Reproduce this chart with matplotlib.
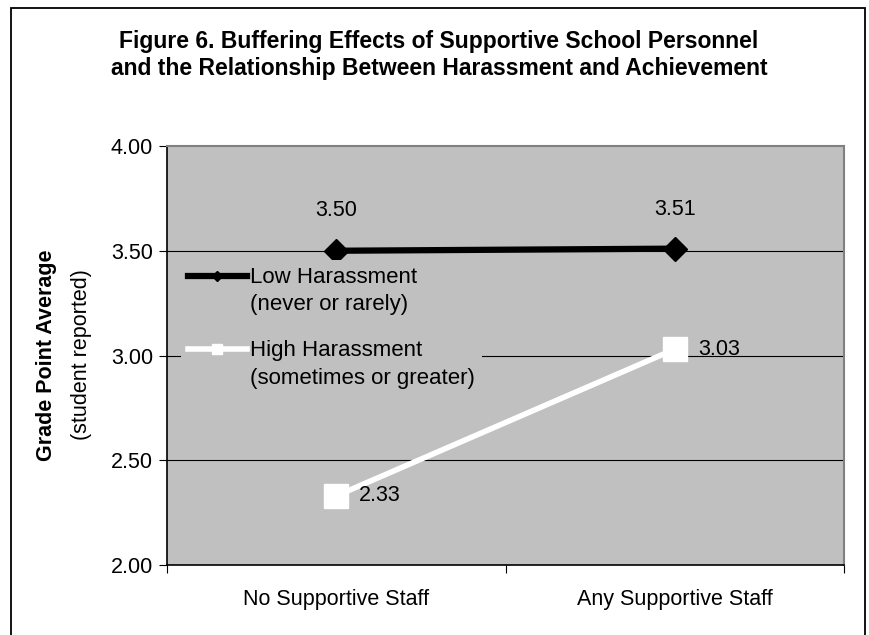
import matplotlib
matplotlib.use("Agg")
import matplotlib.pyplot as plt
from matplotlib.patches import Rectangle

# chart data
categories = ["No Supportive Staff", "Any Supportive Staff"]
low_harassment = [3.50, 3.51]
high_harassment = [2.33, 3.03]
low_label = "Low Harassment\n(never or rarely)"
high_label = "High Harassment\n(sometimes or greater)"
y_ticks = [2.00, 2.50, 3.00, 3.50, 4.00]

plt.rcParams['font.family'] = ['Liberation Sans', 'DejaVu Sans']

W, H = 869, 635
fig = plt.figure(figsize=(W / 100, H / 100), dpi=100)

# outer chart border (bottom edge runs off the image)
fig.patches.append(Rectangle((11 / W, -10 / H), 854 / W, (H - 8 + 10) / H,
                             transform=fig.transFigure, fill=False,
                             edgecolor="black", linewidth=1.3))

ax = fig.add_axes([167 / W, 1 - 565 / H, 677 / W, 419 / H])
ax.set_facecolor("#c0c0c0")

x = [0.5, 1.5]
ax.plot(x, low_harassment, color="black", linewidth=4.5, marker="D",
        markersize=12, label=low_label, zorder=3)
ax.plot(x, high_harassment, color="white", linewidth=4, marker="s",
        markersize=17, label=high_label, zorder=3)

# value labels
ax.annotate("%.2f" % low_harassment[0], (x[0], low_harassment[0]), xytext=(0, 29),
            textcoords="offset points", ha="center", va="center", fontsize=15.5)
ax.annotate("%.2f" % low_harassment[1], (x[1], low_harassment[1]), xytext=(0, 28),
            textcoords="offset points", ha="center", va="center", fontsize=15.5)
ax.annotate("%.2f" % high_harassment[0], (x[0], high_harassment[0]), xytext=(16, 0),
            textcoords="offset points", ha="left", va="center", fontsize=15.5)
ax.annotate("%.2f" % high_harassment[1], (x[1], high_harassment[1]), xytext=(17, 0),
            textcoords="offset points", ha="left", va="center", fontsize=15.5)

ax.set_xlim(0, 2)
ax.set_ylim(2.0, 4.0)
ax.set_yticks(y_ticks)
ax.set_yticklabels(["%.2f" % v for v in y_ticks], fontsize=15.5)
ax.set_xticks([0, 1, 2])
ax.set_xticklabels([])
ax.set_xticks(x, minor=True)
ax.set_xticklabels(categories, minor=True, fontsize=15.5)
ax.tick_params(axis="x", which="minor", length=0, pad=17)
ax.tick_params(axis="x", which="major", length=6, direction="out")
ax.tick_params(axis="y", length=6, direction="out", pad=4)

for v in [2.5, 3.0, 3.5]:
    ax.axhline(v, color="black", linewidth=0.8, zorder=1)

ax.spines["top"].set_color("#808080")
ax.spines["right"].set_color("#808080")
ax.spines["top"].set_linewidth(1.5)
ax.spines["right"].set_linewidth(1.5)
ax.spines["left"].set_linewidth(1.2)
ax.spines["bottom"].set_linewidth(1.2)

# legend sits on a grey box that hides the gridline behind it
leg = ax.legend(loc="upper left", bbox_to_anchor=(0.021, 0.728), frameon=True,
                facecolor="#c0c0c0", edgecolor="none", framealpha=1,
                fancybox=False, fontsize=16, handlelength=2.65, handletextpad=0.15,
                handleheight=1.15, labelspacing=1.1, markerscale=0.43,
                borderpad=0.3, borderaxespad=0)
for t in leg.get_texts():
    t.set_linespacing(1.42)
# put each handle beside the first line of its label, as in the original
for col in leg._legend_handle_box.get_children():
    for row in col.get_children():
        row.align = "top"

fig.text(47 / W, 1 - 355 / H, "Grade Point Average", rotation=90,
         ha="center", va="center", fontsize=15.5, fontweight="bold")
fig.text(81 / W, 1 - 355 / H, "(student reported)", rotation=90,
         ha="center", va="center", fontsize=15.5)

fig.text(0.505, 1 - 55 / H,
         "Figure 6. Buffering Effects of Supportive School Personnel\n"
         "and the Relationship Between Harassment and Achievement",
         ha="center", va="center", fontsize=16.5, fontweight="bold", linespacing=1.2)

fig.savefig("out.png", dpi=100)
